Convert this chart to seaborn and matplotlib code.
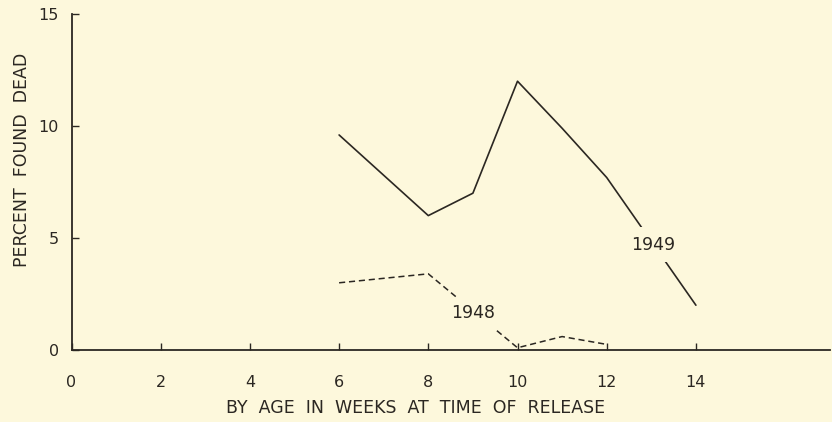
import matplotlib
matplotlib.use("Agg")
import matplotlib.pyplot as plt
import seaborn as sns
import pandas as pd

weeks_1949 = [6, 8, 9, 10, 11, 12, 14]
dead_1949 = [9.6, 6.0, 7.0, 12.0, 9.9, 7.7, 2.0]
weeks_1948 = [6, 8, 10, 11, 12]
dead_1948 = [3.0, 3.4, 0.1, 0.6, 0.25]
x_ticks = [0, 2, 4, 6, 8, 10, 12, 14]
y_ticks = [0, 5, 10, 15]

BG = "#fdf8dc"
INK = "#2b2722"

sns.set_style("ticks")
plt.rcParams['font.family'] = ['DejaVu Sans']

fig = plt.figure(figsize=(8.32, 4.22), dpi=100, facecolor=BG)
ax = fig.add_axes([71.5/832, (422-350)/422, (830-71.5)/832, 336/422])
ax.set_facecolor(BG)

df49 = pd.DataFrame({"week": weeks_1949, "pct": dead_1949})
df48 = pd.DataFrame({"week": weeks_1948, "pct": dead_1948})
sns.lineplot(data=df49, x="week", y="pct", ax=ax, color=INK, lw=1.2, zorder=2)
sns.lineplot(data=df48, x="week", y="pct", ax=ax, color=INK, lw=1.1,
             linestyle=(0, (4, 2.5)), zorder=2)

ax.text(13.05, 4.7, "1949", ha="center", va="center", fontsize=12.5, color=INK,
        bbox=dict(facecolor=BG, edgecolor="none", pad=6), zorder=3)
ax.text(9.0, 1.63, "1948", ha="center", va="center", fontsize=12.5, color=INK,
        bbox=dict(facecolor=BG, edgecolor="none", pad=5), zorder=3)

ax.set_xlim(0, (830-71.5)/44.6)
ax.set_ylim(0, 15)
ax.set_xticks(x_ticks)
ax.set_yticks(y_ticks)
ax.tick_params(direction="in", length=5, width=1, color=INK, labelcolor=INK,
               labelsize=11.5)
ax.tick_params(axis="x", pad=18)
ax.tick_params(axis="y", pad=9)
for s in ["top", "right"]:
    ax.spines[s].set_visible(False)
for s in ["left", "bottom"]:
    ax.spines[s].set_color(INK)
    ax.spines[s].set_linewidth(1.3)
ax.set_xlabel("")
ax.set_ylabel("")

fig.text(416/832, 1-408/422, "BY  AGE  IN  WEEKS  AT  TIME  OF  RELEASE",
         ha="center", va="center", fontsize=12.5, color=INK)
fig.text(22/832, 1-160/422, "PERCENT  FOUND  DEAD", rotation=90,
         ha="center", va="center", fontsize=12.5, color=INK)

fig.savefig("out.png", dpi=100, facecolor=BG)
